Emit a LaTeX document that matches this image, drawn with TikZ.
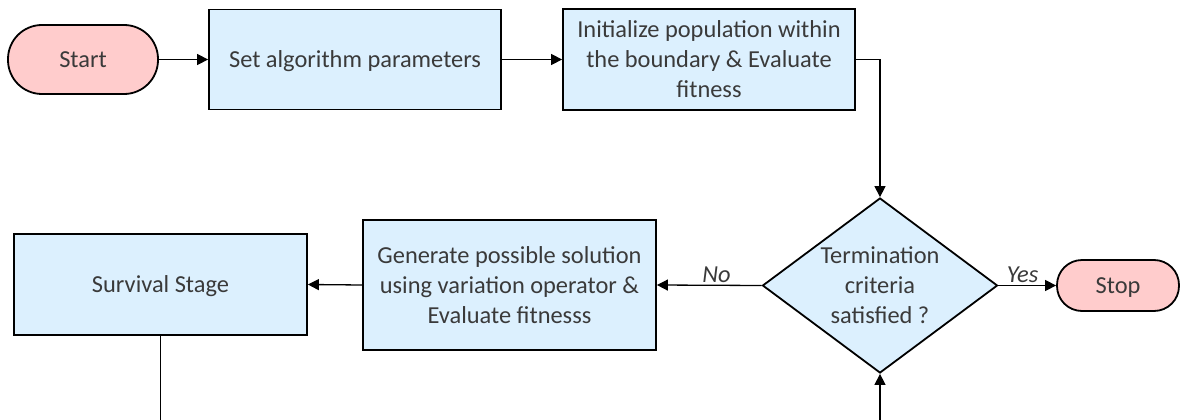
\documentclass[tikz,border=0pt]{standalone}
\usepackage{fontspec}
\setmainfont{Carlito}
\usetikzlibrary{arrows.meta,shapes.geometric}
\definecolor{procfill}{RGB}{220,240,254}
\definecolor{termfill}{RGB}{255,204,204}
\definecolor{inkgray}{RGB}{58,58,58}
\begin{document}
\begin{tikzpicture}[x=1pt,y=-1pt,
  every node/.style={font=\fontsize{24.4}{30}\selectfont, text=inkgray},
  oneline/.style={text height=17pt, text depth=1.5pt},
  proc/.style={draw=black, line width=1.8pt, fill=procfill, align=center, inner sep=0pt},
  term/.style={draw=black, line width=1.8pt, fill=termfill, inner sep=0pt, oneline},
  decision/.style={diamond, draw=black, line width=1.8pt, fill=procfill, inner sep=0pt,
    minimum width=235pt, minimum height=175pt},
  link/.style={draw=black, line width=1.3pt},
  arr/.style={link, -{Triangle[length=11pt,width=11pt]}},
  edgelbl/.style={font=\itshape\fontsize{24.4}{30}\selectfont, text=inkgray, inner sep=2pt}
]
\path[use as bounding box, fill=white] (0,0) rectangle (1180,420);

% terminals
\node[term, rounded corners=34pt, minimum width=150pt, minimum height=69pt] (start) at (83,59.5) {Start};
\node[term, rounded corners=25pt, minimum width=122pt, minimum height=51pt] (stop) at (1118,285.5) {Stop};

% process boxes
\node[proc, oneline, minimum width=292pt, minimum height=100pt] (setp) at (355,59.5) {Set algorithm parameters};
\node[proc, minimum width=292pt, minimum height=101pt] (init) at (709,59.5)
  {Initialize population within\\the boundary \& Evaluate\\fitness};
\node[proc, minimum width=293pt, minimum height=130pt] (gen) at (509.5,285)
  {Generate possible solution\\using variation operator \&\\Evaluate fitnesss};
\node[proc, oneline, minimum width=293pt, minimum height=101pt] (surv) at (160.5,284.5) {Survival Stage};

% decision
\node[decision, label={[align=center, text=inkgray]center:Termination\\criteria\\satisfied ?}] (dec) at (880,285.5) {};

% loop ends leaving the frame at the bottom
\coordinate (survout) at (160.5,421);
\coordinate (decin) at (880,421);

% connectors
\draw[arr] (start) -- (setp);
\draw[arr] (setp) -- (init);
\draw[arr] (init.east) -| (dec.north);
\draw[arr] (dec.east) -- node[edgelbl, above, pos=0.42] {Yes} (stop.west);
\draw[arr] (dec.west) -- node[edgelbl, above, pos=0.43] {No} (gen.east);
\draw[arr] (gen.west) -- (surv.east);
\draw[link] (surv.south) -- (survout);
\draw[arr] (decin) -- (dec.south);
\end{tikzpicture}
\end{document}
